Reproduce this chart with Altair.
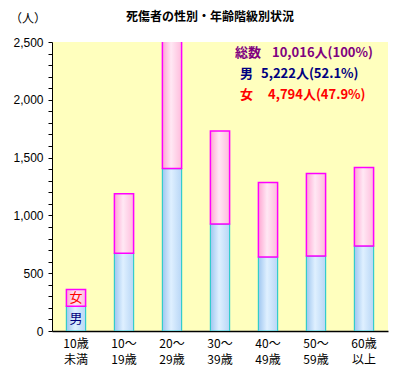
import altair as alt
import pandas as pd

categories = ["10歳|未満", "10～|19歳", "20～|29歳", "30～|39歳", "40～|49歳", "50～|59歳", "60歳|以上"]
male = [215, 672, 1405, 925, 640, 648, 735]
female = [145, 515, 1265, 805, 645, 715, 680]
y_ticks = list(range(0, 2501, 100))
title_text = "死傷者の性別・年齢階級別状況"
unit_text = "（人）"
legend_lines = ["総数", "10,016人(100%)", "男", "5,222人(52.1%)", "女", "4,794人(47.9%)"]

df = pd.DataFrame({
    "cat": categories,
    "male": male,
    "female": female,
})
df["total"] = df["male"] + df["female"]
df["zero"] = 0

FONT = "Noto Sans CJK JP"

blue_grad = alt.LinearGradient(
    gradient="linear", x1=0, x2=1, y1=0, y2=0,
    stops=[alt.GradientStop(color="#9fc6f0", offset=0),
           alt.GradientStop(color="#dff0ff", offset=0.45),
           alt.GradientStop(color="#b8d6f6", offset=1)])
pink_grad = alt.LinearGradient(
    gradient="linear", x1=0, x2=1, y1=0, y2=0,
    stops=[alt.GradientStop(color="#ffa6d2", offset=0),
           alt.GradientStop(color="#ffe8f4", offset=0.45),
           alt.GradientStop(color="#ffbcdc", offset=1)])

x_axis = alt.Axis(labelExpr="split(datum.label, '|')", labelAngle=0,
                  ticks=False, labelPadding=7, labelFontSize=12,
                  labelLineHeight=16, labelFont=FONT, labelColor="black",
                  labelBaseline="top", title=None,
                  domainColor="black", domainWidth=1.5)
y_axis = alt.Axis(values=y_ticks,
                  labelExpr="datum.value % 500 === 0 ? format(datum.value, ',') : ''",
                  labelOverlap=False, title=None,
                  tickSize=4, tickColor="black", domainColor="black",
                  labelFontSize=12, labelFont="Liberation Sans", labelColor="black",
                  labelPadding=5, grid=False)
x_scale = alt.Scale(paddingInner=0.6, paddingOuter=0.3)
y_scale = alt.Scale(domain=[0, 2500], nice=False)

def X():
    return alt.X("cat:N", sort=categories, title=None, scale=x_scale, axis=x_axis)

def Y(field):
    return alt.Y(field, scale=y_scale, title=None, axis=y_axis)

base = alt.Chart(df)

male_bar = base.mark_bar(color=blue_grad, stroke="#33cccc", strokeWidth=1.2, clip=True).encode(
    x=X(), y=Y("male:Q"), y2=alt.Y2("zero:Q"),
)

female_bar = base.mark_bar(color=pink_grad, stroke="#ff00ff", strokeWidth=1.5, clip=True).encode(
    x=X(), y=Y("total:Q"), y2=alt.Y2("male:Q"),
)

first = df.iloc[[0]].copy()
first["m_mid"] = first["male"] / 2
first["f_mid"] = first["male"] + first["female"] / 2
male_lbl = alt.Chart(first).mark_text(text="男", color="#000080", fontSize=13, font=FONT).encode(
    x=X(), y=Y("m_mid:Q"))
female_lbl = alt.Chart(first).mark_text(text="女", color="#ff0000", fontSize=13, font=FONT).encode(
    x=X(), y=Y("f_mid:Q"))

def txt(s, x, y, color="black", size=12, weight="bold", align="left"):
    return alt.Chart(pd.DataFrame({"t": [s]})).mark_text(
        color=color, fontSize=size, fontWeight=weight, font=FONT, align=align, baseline="middle"
    ).encode(x=alt.value(x), y=alt.value(y), text="t:N")

title = txt(title_text, 158, -25, size=12, align="center")
unit = txt(unit_text, -24, -23, size=12, weight="normal", align="center")
l1a = txt(legend_lines[0], 183, 11, color="#800080", size=13)
l1b = txt(legend_lines[1], 220, 11, color="#800080", size=13)
l2a = txt(legend_lines[2], 188, 32, color="#000080", size=13)
l2b = txt(legend_lines[3], 209, 32, color="#000080", size=13)
l3a = txt(legend_lines[4], 188, 53, color="#ff0000", size=13)
l3b = txt(legend_lines[5], 216, 53, color="#ff0000", size=13)

chart = alt.layer(male_bar, female_bar, male_lbl, female_lbl, title, unit,
                  l1a, l1b, l2a, l2b, l3a, l3b).properties(
    width=336, height=289,
    autosize=alt.AutoSizeParams(type="none"),
    padding={"left": 44, "top": 34, "right": 10, "bottom": 36},
    background="white",
).configure_view(fill="#ffffbe", strokeWidth=0)

chart.save("out.html", embed_options={"renderer": "svg", "actions": False})
